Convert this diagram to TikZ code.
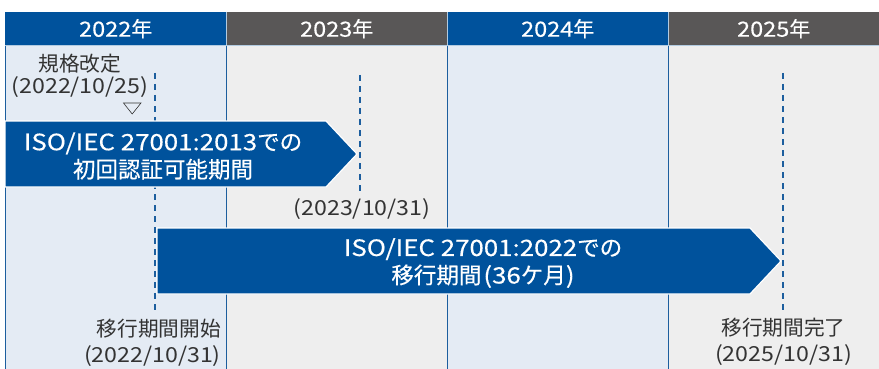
\documentclass[tikz,border=0pt]{standalone}
\usepackage{fontspec}
\setmainfont{Noto Sans CJK JP}
\newfontfamily\widefont[FakeStretch=1.12]{Noto Sans CJK JP}
\newfontfamily\widefontb[FakeStretch=1.15,FakeBold=0.4]{Noto Sans CJK JP}
\newfontfamily\widefonth[FakeStretch=1.12,FakeBold=0.25]{Noto Sans CJK JP}
\newfontfamily\cjkb[FakeBold=0.4]{Noto Sans CJK JP}
\newfontfamily\cjkh[FakeBold=0.25]{Noto Sans CJK JP}
\newcommand\lt[1]{{\widefont #1}}
\newcommand\ltb[1]{{\widefontb #1}}
\newcommand\lth[1]{{\widefonth #1}}
\definecolor{hblue}{HTML}{00529C}
\definecolor{hgray}{HTML}{595757}
\definecolor{bblue}{HTML}{E4EBF4}
\definecolor{bgray}{HTML}{EEEEEE}
\definecolor{lblue}{HTML}{1C5E9E}
\definecolor{tgray}{HTML}{333333}
\tikzset{
  hdr/.style={minimum height=33pt, inner sep=0pt, text=white, font=\fontsize{21}{23}\selectfont\cjkh, anchor=north west},
  body/.style={inner sep=0pt, anchor=north west, minimum height=324pt},
  lbl/.style={text=tgray, font=\fontsize{20.7}{22}\selectfont, align=center, inner sep=0pt},
  lblb/.style={text=tgray, font=\fontsize{20.7}{26}\selectfont, align=center, inner sep=0pt},
  arrtxt/.style={text=white, font=\fontsize{22.5}{27.5}\selectfont\cjkb, align=center, inner sep=0pt},
  arrowpoly/.style={fill=hblue, draw=white, line width=1.2pt},
  dashline/.style={draw=lblue, line width=1.3pt, dash pattern=on 6pt off 5pt},
  colline/.style={draw=lblue, line width=0.8pt}
}
\begin{document}
\begin{tikzpicture}[x=1pt,y=-1pt]
\useasboundingbox (0,0) rectangle (879,369);
\fill[white] (0,0) rectangle (879,369);
% body columns
\node[body, fill=bblue, minimum width=221pt] (b1) at (5,45) {};
\node[body, fill=bgray, minimum width=221pt] (b2) at (226,45) {};
\node[body, fill=bblue, minimum width=221pt] (b3) at (447,45) {};
\node[body, fill=bgray, minimum width=211pt] (b4) at (668,45) {};
% headers
\node[hdr, fill=hblue, minimum width=221pt] (h1) at (5,12) {\lth{2022}年};
\node[hdr, fill=hgray, minimum width=221pt] (h2) at (226,12) {\lth{2023}年};
\node[hdr, fill=hblue, minimum width=221pt] (h3) at (447,12) {\lth{2024}年};
\node[hdr, fill=hgray, minimum width=211pt] (h4) at (668,12) {\lth{2025}年};
% lines
\draw[colline] (b1.north west) -- (b1.south west);
\draw[colline] (b2.north west) -- (b2.south west);
\draw[colline] (b3.north west) -- (b3.south west);
\draw[colline] (b4.north west) -- (b4.south west);
\draw[draw=white!70!hblue, line width=0.8pt] (h1.south west) -- (h4.south east);
\draw[draw=white!70!hblue, line width=0.6pt] (h2.north west) -- (h2.south west);
\draw[draw=white!70!hblue, line width=0.6pt] (h3.north west) -- (h3.south west);
\draw[draw=white!70!hblue, line width=0.6pt] (h4.north west) -- (h4.south west);
% dashed lines
\coordinate (d1a) at (155,73); \coordinate (d1b) at (155,313);
\coordinate (d2a) at (360,75); \coordinate (d2b) at (360,192);
\coordinate (d3a) at (783,73); \coordinate (d3b) at (783,311);
\draw[dashline] (d1a) -- (d1b);
\draw[dashline] (d2a) -- (d2b);
\draw[dashline] (d3a) -- (d3b);
% arrows
\draw[arrowpoly] (5,121) -- (326,121) -- (357,154) -- (326,187) -- (5,187) -- cycle;
\draw[arrowpoly] (157,228) -- (750,228) -- (781,261) -- (750,294) -- (157,294) -- cycle;
\node[arrtxt] (a1) at (163,156) {\ltb{ISO/IEC 27001:2013}での\\初回認証可能期間};
\node[arrtxt] (a2) at (483,263) {\ltb{ISO/IEC 27001:2022}での\\移行期間\kern2pt\ltb{(36}ケ月\ltb{)}};
% labels
\node[lbl] (l1) at (80,76) {規格改定\\\lt{(2022/10/25)}};
\draw[draw=tgray, line width=0.6pt] (123.5,103) -- (141,103) -- (132.2,114) -- cycle;
\node[lbl] (l2) at (362,209.5) {\lt{(2023/10/31)}};
\node[lblb, align=right, anchor=east] (l3) at (221,342.5) {移行期間開始\\\lt{(2022/10/31)}};
\node[lblb] (l4) at (783.5,341.5) {移行期間完了\\\lt{(2025/10/31)}};
\end{tikzpicture}
\end{document}
